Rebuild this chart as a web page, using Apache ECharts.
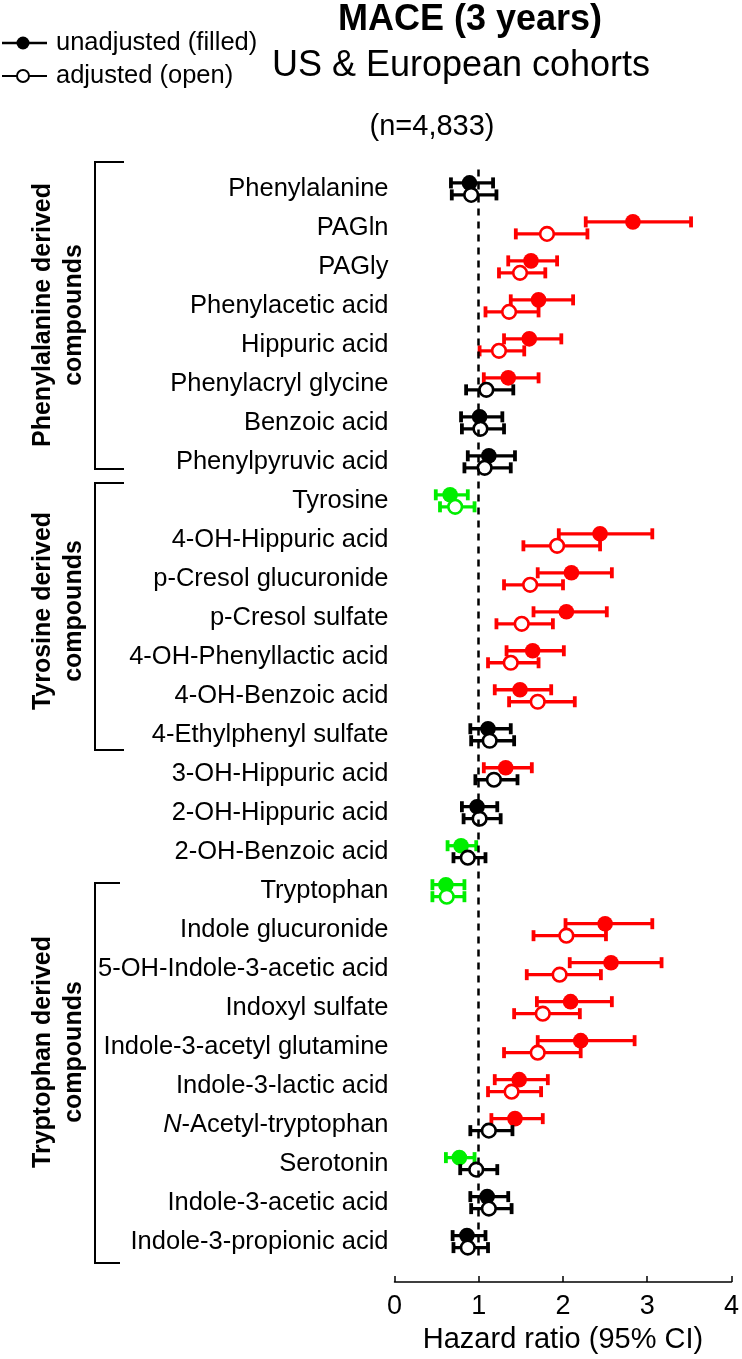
<!DOCTYPE html>
<html>
<head>
<meta charset="utf-8">
<script src="https://cdn.jsdelivr.net/npm/echarts@6/dist/echarts.min.js"></script>
<style>
html,body{margin:0;padding:0;background:#fff;}
#chart{width:742px;height:1359px;}
</style>
</head>
<body>
<div id="chart"></div>
<script>
const categories = [
  'Phenylalanine','PAGln','PAGly','Phenylacetic acid','Hippuric acid','Phenylacryl glycine','Benzoic acid','Phenylpyruvic acid',
  'Tyrosine','4-OH-Hippuric acid','p-Cresol glucuronide','p-Cresol sulfate','4-OH-Phenyllactic acid','4-OH-Benzoic acid','4-Ethylphenyl sulfate',
  '3-OH-Hippuric acid','2-OH-Hippuric acid','2-OH-Benzoic acid',
  'Tryptophan','Indole glucuronide','5-OH-Indole-3-acetic acid','Indoxyl sulfate','Indole-3-acetyl glutamine','Indole-3-lactic acid','N-Acetyl-tryptophan','Serotonin','Indole-3-acetic acid','Indole-3-propionic acid'
];
// unadjusted (filled)
const unadjHR = [0.89,2.83,1.62,1.71,1.60,1.35,1.01,1.12, 0.66,2.44,2.10,2.04,1.64,1.49,1.11, 1.32,0.98,0.79, 0.61,2.50,2.57,2.09,2.21,1.48,1.43,0.77,1.10,0.86];
const unadjLo = [0.67,2.27,1.35,1.38,1.30,1.06,0.79,0.87, 0.49,1.95,1.70,1.65,1.33,1.19,0.90, 1.06,0.80,0.63, 0.45,2.03,2.08,1.69,1.70,1.19,1.15,0.61,0.90,0.69];
const unadjHi = [1.17,3.52,1.93,2.12,1.98,1.71,1.28,1.43, 0.87,3.06,2.58,2.52,2.01,1.86,1.38, 1.63,1.22,0.97, 0.83,3.06,3.17,2.58,2.85,1.82,1.76,0.95,1.35,1.08];
// adjusted (open)
const adjHR = [0.91,1.81,1.49,1.36,1.24,1.09,1.02,1.07, 0.72,1.93,1.61,1.51,1.38,1.70,1.13, 1.18,1.01,0.87, 0.62,2.04,1.96,1.76,1.70,1.39,1.12,0.97,1.12,0.87];
const adjLo = [0.68,1.44,1.24,1.08,1.01,0.85,0.80,0.83, 0.54,1.53,1.30,1.21,1.11,1.36,0.91, 0.96,0.82,0.70, 0.45,1.65,1.57,1.42,1.30,1.11,0.90,0.78,0.91,0.70];
const adjHi = [1.21,2.29,1.79,1.71,1.54,1.41,1.30,1.38, 0.95,2.44,2.00,1.88,1.71,2.14,1.42, 1.46,1.26,1.08, 0.83,2.51,2.45,2.20,2.21,1.74,1.40,1.22,1.39,1.11];
const xTicks = [0,1,2,3,4];
const groups = [
  {name:'Phenylalanine derived\ncompounds'},
  {name:'Tyrosine derived\ncompounds'},
  {name:'Tryptophan derived\ncompounds'}
];

const FONT = '"Liberation Sans", Arial, Helvetica, sans-serif';
const RED = '#ff0000', GREEN = '#00ee00', BLACK = '#000000';

function colorFor(lo, hi){
  if (lo > 1) return RED;
  if (hi < 1) return GREEN;
  return BLACK;
}

function makeRender(offset, filled){
  return function(params, api){
    const row = api.value(0);
    const hr = api.value(1), lo = api.value(2), hi = api.value(3);
    const p = api.coord([hr, row]);
    const pl = api.coord([lo, row]);
    const ph = api.coord([hi, row]);
    const y = p[1] + offset;
    const c = colorFor(lo, hi);
    const capH = 5.5;
    return {
      type:'group',
      children:[
        {type:'line', shape:{x1:pl[0],y1:y,x2:ph[0],y2:y}, style:{stroke:c,lineWidth:3.3}},
        {type:'line', shape:{x1:pl[0],y1:y-capH,x2:pl[0],y2:y+capH}, style:{stroke:c,lineWidth:3.8}},
        {type:'line', shape:{x1:ph[0],y1:y-capH,x2:ph[0],y2:y+capH}, style:{stroke:c,lineWidth:3.8}},
        filled
          ? {type:'circle', shape:{cx:p[0],cy:y,r:7.8}, style:{fill:c}}
          : {type:'circle', shape:{cx:p[0],cy:y,r:6.8}, style:{fill:'#ffffff',stroke:c,lineWidth:2.6}}
      ]
    };
  };
}

const unadjData = categories.map((c,i)=>[i, unadjHR[i], unadjLo[i], unadjHi[i]]);
const adjData = categories.map((c,i)=>[i, adjHR[i], adjLo[i], adjHi[i]]);

function bracket(top, bottom, right){
  return {
    type:'polyline',
    shape:{points:[[right,top],[95,top],[95,bottom],[right,bottom]]},
    style:{stroke:'#000',lineWidth:2,fill:null}
  };
}
function groupText(text, x, y){
  return {
    type:'text', x:x, y:y, rotation:Math.PI/2,
    style:{text:text, font:'bold 25px ' + FONT, fill:'#000', align:'center', verticalAlign:'middle', lineHeight:31}
  };
}

const chart = echarts.init(document.getElementById('chart'), null, {renderer:'canvas'});
chart.setOption({
  backgroundColor:'#ffffff',
  animation:false,
  textStyle:{fontFamily:FONT},
  grid:{left:394.5, right:9.7, top:169.4, bottom:93.9, containLabel:false},
  xAxis:{
    type:'value', min:0, max:4, interval:1, position:'bottom', offset:21,
    axisLine:{show:true, lineStyle:{color:'#000', width:1.5}},
    axisTick:{show:true, inside:true, length:6, lineStyle:{color:'#000', width:1.5}},
    axisLabel:{color:'#000', fontSize:27, margin:11, fontFamily:FONT,
      formatter:function(v){ return xTicks.indexOf(v) >= 0 ? String(v) : ''; }},
    splitLine:{show:false},
    name:'Hazard ratio (95% CI)', nameLocation:'middle', nameGap:40,
    nameTextStyle:{color:'#000', fontSize:29, fontFamily:FONT}
  },
  yAxis:{
    type:'category', data:categories, inverse:true,
    axisLine:{show:false}, axisTick:{show:false}, splitLine:{show:false},
    axisLabel:{color:'#000', fontSize:25.5, margin:6, fontFamily:FONT,
      formatter:function(v){
        if (v.indexOf('N-') === 0) return '{i|N}' + v.slice(1);
        return v;
      },
      rich:{i:{fontStyle:'italic', fontSize:25.5, color:'#000', fontFamily:FONT}}
    }
  },
  series:[
    {
      type:'custom', name:'unadjusted (filled)', renderItem:makeRender(-6, true),
      encode:{x:[1,2,3], y:0}, data:unadjData, z:3,
      markLine:{
        silent:true, symbol:'none', label:{show:false},
        lineStyle:{color:'#000', width:2.5, type:[7,6]},
        data:[{xAxis:1}]
      }
    },
    {
      type:'custom', name:'adjusted (open)', renderItem:makeRender(6, false),
      encode:{x:[1,2,3], y:0}, data:adjData, z:4
    }
  ],
  graphic:[
    // legend
    {type:'line', shape:{x1:2,y1:43,x2:47,y2:43}, style:{stroke:'#000',lineWidth:2.5}},
    {type:'circle', shape:{cx:23,cy:43,r:6.5}, style:{fill:'#000'}},
    {type:'text', x:56, y:43, style:{text:'unadjusted (filled)', font:'25.5px '+FONT, fill:'#000', verticalAlign:'middle'}},
    {type:'line', shape:{x1:2,y1:76,x2:47,y2:76}, style:{stroke:'#000',lineWidth:2.2}},
    {type:'circle', shape:{cx:23,cy:76,r:6}, style:{fill:'#fff',stroke:'#000',lineWidth:2}},
    {type:'text', x:56, y:76, style:{text:'adjusted (open)', font:'25.5px '+FONT, fill:'#000', verticalAlign:'middle'}},
    // titles
    {type:'text', x:470, y:20, style:{text:'MACE (3 years)', font:'bold 36px '+FONT, fill:'#000', align:'center', verticalAlign:'middle'}},
    {type:'text', x:461, y:66, style:{text:'US & European cohorts', font:'36px '+FONT, fill:'#000', align:'center', verticalAlign:'middle'}},
    {type:'text', x:432, y:127, style:{text:'(n=4,833)', font:'29px '+FONT, fill:'#000', align:'center', verticalAlign:'middle'}},
    // brackets
    bracket(162, 469, 124),
    bracket(483, 750, 124),
    bracket(883, 1263, 120),
    groupText(groups[0].name, 59, 315),
    groupText(groups[1].name, 59, 611),
    groupText(groups[2].name, 59, 1052)
  ]
});
</script>
</body>
</html>
